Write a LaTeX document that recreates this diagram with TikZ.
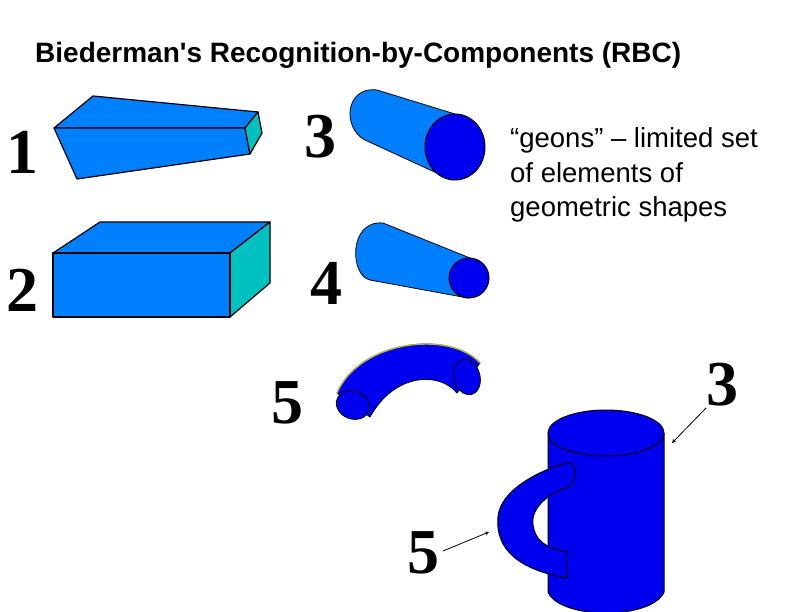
\documentclass[tikz,border=0pt]{standalone}
\usepackage{fontspec}
\setmainfont{Liberation Sans}
\newfontfamily\digf{Liberation Serif}
\begin{document}
\begin{tikzpicture}[x=1pt,y=-1pt,line join=round,
  face/.style={fill=lb,draw=black,line width=1.2pt},
  dark/.style={fill=db,draw=black,line width=1pt},
  num/.style={font=\digf\bfseries\fontsize{64}{64}\selectfont,inner sep=0pt},
  arr/.style={-stealth,line width=0.8pt}]
\definecolor{lb}{HTML}{0080FF}
\definecolor{db}{HTML}{0000F0}
\definecolor{tl}{HTML}{00C0C0}
\useasboundingbox (0,0) rectangle (792,612);
\fill[white] (0,0) rectangle (792,612);
\node[anchor=base west,font=\bfseries\fontsize{28}{28}\selectfont,inner sep=0pt] (title) at (35,63) {Biederman\textquotesingle s Recognition-by-Components (RBC)};
% 1 wedge
\draw[face] (54,128) -- (93,96) -- (258,112) -- (245,128) -- cycle;
\draw[face] (54,128) -- (245,128) -- (250,154) -- (77,179) -- cycle;
\draw[face,fill=tl] (245,128) -- (258,112) -- (262,133) -- (250,154) -- cycle;
% 2 box
\draw[face] (53,253) -- (100,222) -- (270,222) -- (230,253) -- cycle;
\draw[face,fill=tl] (230,253) -- (270,222) -- (270,283) -- (230,317) -- cycle;
\draw[face] (53,253) rectangle (230,317);
% 3 cylinder
\draw[fill=lb,draw=black,line width=0.8pt] (377,90) -- (455,114) -- (452,180) -- (365,140) .. controls (342,128) and (345,86) .. (377,90);
\draw[dark] (455,147) ellipse [x radius=30,y radius=33];
% 4 cone
\draw[fill=lb,draw=black,line width=0.8pt] (383,223) -- (470,258) -- (468,298) -- (370,280) .. controls (350,276) and (348,220) .. (383,223);
\draw[dark] (469,278) ellipse [x radius=20,y radius=20];
% 5 curved tube
\draw[fill=db,draw=black,line width=0.8pt] (337,393) .. controls (360,340) and (450,330) .. (480,363) -- (457,393) .. controls (440,372) and (395,372) .. (370,417) -- cycle;
\draw[draw={rgb,255:red,180;green,180;blue,60},line width=1.4pt] (337,393) .. controls (360,340) and (450,330) .. (480,363);
\draw[dark,line width=0.8pt,rotate around={-20:(353,405)}] (353,405) ellipse [x radius=17,y radius=14];
\draw[dark,line width=0.8pt,rotate around={15:(467,377)}] (467,377) ellipse [x radius=13,y radius=18];
% numbers
\node[num] (n1) at (22,152) {1};
\node[num] (n2) at (22,290) {2};
\node[num] (n3) at (320,137) {3};
\node[num] (n4) at (326,283) {4};
\node[num] (n5) at (287,403) {5};
\node[anchor=base west,font=\fontsize{27.5}{28}\selectfont,inner sep=0pt] (g1) at (510,148) {“geons” – limited set};
\node[anchor=base west,font=\fontsize{27.5}{28}\selectfont,inner sep=0pt] (g2) at (510,183) {of elements of};
\node[anchor=base west,font=\fontsize{27.5}{28}\selectfont,inner sep=0pt] (g3) at (510,217) {geometric shapes};
% mug
\draw[dark] (548,433) -- (548,592) .. controls (560,620) and (652,620) .. (664,592) -- (664,433);
\draw[dark] (606,433) ellipse [x radius=58,y radius=23];
\draw[dark] (567,463) .. controls (576,460) and (578,478) .. (570,487) .. controls (555,490) and (530,505) .. (533,525) .. controls (535,540) and (545,548) .. (567,552) -- (567,578) .. controls (520,570) and (495,550) .. (498,517) .. controls (500,490) and (540,470) .. (567,463) -- cycle;
\coordinate (mugR) at (672,443);
\coordinate (mugH) at (489,532);
\node[num] (m3) at (722,385) {3};
\node[num] (m5) at (423,553) {5};
\draw[arr] (706,408) -- (mugR);
\draw[arr] (443,551) -- (mugH);
\end{tikzpicture}
\end{document}
